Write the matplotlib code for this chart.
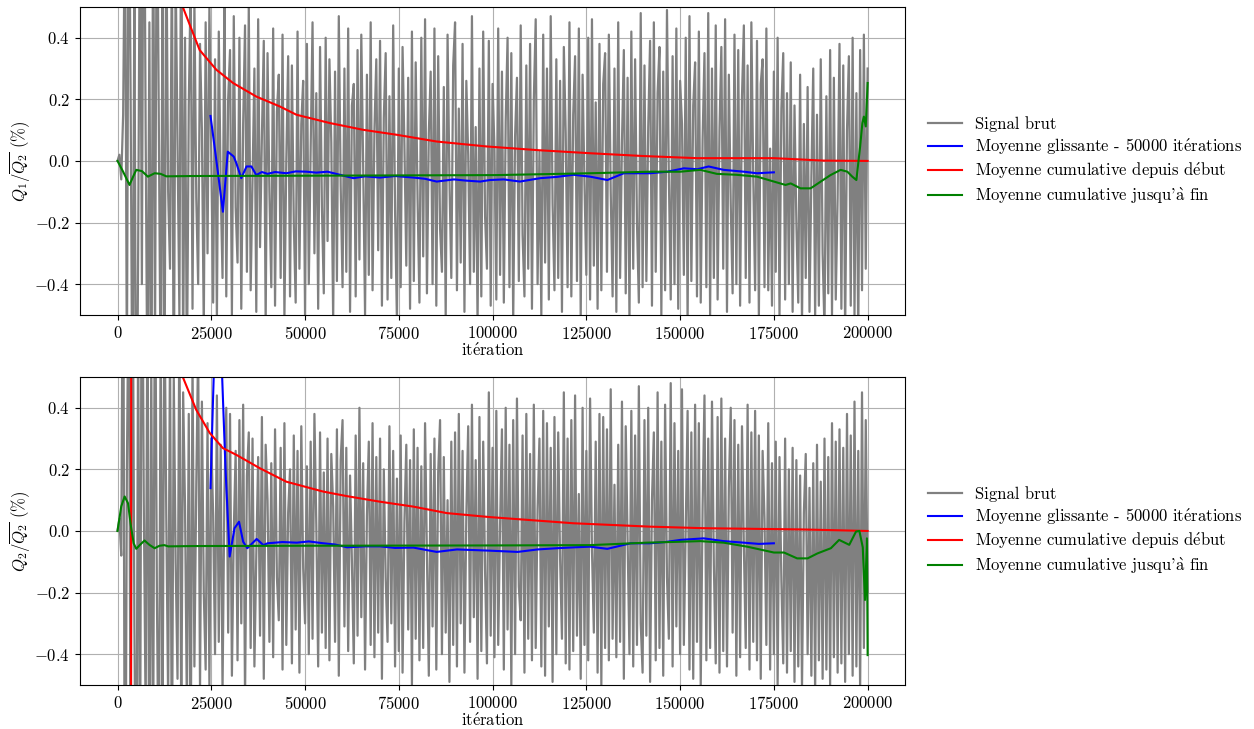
import numpy as np
import matplotlib
matplotlib.use("Agg")
import matplotlib.pyplot as plt

plt.rcParams.update(
    {
        "font.family": ["cmr10", "DejaVu Serif"],
        "mathtext.fontset": "cm",
        "axes.formatter.use_mathtext": True,
        "font.size": 12,
    }
)

# raw signal, one value every 500 iterations
sig1 = [
    0.00, 0.02, -0.06, 0.15, 0.85, -0.70, 1.10, 0.20, -0.95, 0.60, -1.20, -0.30, 0.95, -0.40, 1.30, 0.10, -0.85, 0.45, -1.05, 0.90,
    -0.60, 1.05, 0.15, -0.75, 0.55, -0.90, 0.80, -0.10, -0.35, 0.70, -0.85, 0.62, 0.05, -0.50, 0.95, -0.65, 0.40, -0.72, 0.18, 0.58,
    -0.48, 0.52, -0.12, -0.40, 0.38, 0.10, -0.55, 0.45, -0.30, 0.50, 0.02, -0.46, 0.33, -0.52, 0.42, -0.08, -0.38, 0.55, -0.44, 0.20,
    0.36, -0.50, 0.47, -0.15, -0.33, 0.40, -0.48, 0.12, 0.44, -0.36, 0.51, -0.42, -0.05, 0.30, -0.49, 0.46, -0.28, 0.08, 0.39, -0.53,
    0.35, -0.10, -0.41, 0.43, -0.47, 0.16, 0.28, -0.38, 0.41, -0.51, 0.00, 0.34, -0.44, 0.31, -0.20, -0.46, 0.42, -0.35, 0.12, 0.26,
    -0.50, 0.38, -0.40, 0.04, 0.45, -0.30, 0.22, -0.48, 0.37, -0.15, -0.43, 0.40, -0.26, 0.33, 0.06, -0.52, 0.29, -0.39, 0.47, -0.08,
    -0.41, 0.30, -0.36, 0.43, -0.49, 0.18, 0.25, -0.44, 0.36, -0.32, 0.41, -0.02, -0.50, 0.28, -0.37, 0.45, -0.42, 0.10, 0.33, -0.29,
    0.39, -0.47, 0.14, 0.35, -0.45, 0.21, -0.38, 0.44, -0.16, -0.52, 0.30, -0.41, 0.37, 0.05, -0.34, 0.27, -0.48, 0.42, -0.39, 0.32,
    -0.12, -0.46, 0.40, -0.31, 0.46, -0.43, 0.09, 0.29, -0.40, 0.43, -0.47, 0.34, -0.22, -0.36, 0.24, -0.51, 0.41, -0.06, -0.38, 0.31,
    0.45, -0.42, 0.17, -0.33, 0.38, -0.49, 0.26, 0.02, -0.40, 0.47, -0.36, 0.11, -0.53, 0.30, -0.44, 0.42, -0.18, -0.35, 0.39, -0.47,
    0.25, 0.04, -0.45, 0.43, -0.37, 0.29, -0.46, 0.13, 0.40, -0.41, 0.35, -0.52, 0.08, 0.27, -0.39, 0.44, -0.24, -0.44, 0.31, -0.35,
    0.38, -0.48, 0.20, 0.46, -0.40, 0.03, -0.50, 0.41, -0.33, 0.30, -0.45, 0.47, -0.14, -0.42, 0.33, -0.38, 0.26, -0.49, 0.37, 0.09,
    -0.41, 0.45, -0.44, 0.15, 0.34, -0.39, 0.43, -0.51, 0.28, -0.07, -0.37, 0.40, -0.45, 0.46, -0.34, 0.19, -0.48, 0.38, -0.42, 0.25,
    0.35, -0.36, 0.41, -0.10, -0.44, 0.30, -0.49, 0.45, -0.38, 0.06, 0.36, -0.43, 0.27, -0.52, 0.42, -0.35, 0.33, -0.20, -0.46, 0.48,
    -0.41, 0.31, -0.39, 0.11, 0.39, -0.47, 0.45, -0.36, 0.22, 0.37, -0.50, 0.29, -0.42, 0.49, -0.05, -0.45, 0.34, -0.40, 0.43, -0.48,
    0.26, 0.12, -0.37, 0.40, -0.53, 0.47, -0.39, 0.18, 0.32, -0.44, 0.42, -0.46, 0.07, 0.35, -0.41, 0.48, -0.50, 0.30, -0.38, 0.44,
    -0.45, 0.10, 0.37, -0.35, 0.46, -0.49, 0.28, -0.14, -0.43, 0.41, -0.40, 0.36, -0.47, 0.21, 0.44, -0.38, 0.31, -0.46, 0.45, -0.05,
    -0.42, 0.39, -0.51, 0.25, 0.33, -0.41, 0.43, -0.42, 0.04, -0.47, 0.29, -0.36, 0.40, -0.50, 0.17, 0.35, -0.45, 0.22, -0.40, 0.32,
    -0.49, 0.18, -0.20, -0.46, 0.28, -0.53, 0.12, -0.38, 0.24, -0.49, -0.05, 0.30, -0.51, 0.15, -0.47, 0.33, -0.30, -0.55, 0.21, -0.43,
    0.36, -0.50, 0.27, -0.45, -0.12, 0.38, -0.48, 0.31, -0.56, 0.10, 0.34, -0.47, 0.40, -0.50, 0.22, -0.58, 0.36, -0.42, 0.41, -0.35,
    0.30,
]
sig2 = [
    0.00, 0.04, -0.08, 1.20, -1.40, 0.20, 0.90, -0.80, 1.05, -0.30, -1.15, 0.70, -0.95, 1.25, 0.10, -0.60, 0.85, -1.10, 0.55, -0.75,
    1.00, -0.20, -0.90, 0.65, -0.70, 0.80, 0.05, -0.55, 0.62, -0.85, 0.50, -0.10, -0.48, 0.72, -0.66, 0.45, 0.08, -0.58, 0.38, -0.80,
    0.56, -0.44, 0.15, 0.60, -0.52, 0.42, -0.20, -0.45, 0.35, -0.50, 0.30, 0.05, -0.40, 0.44, -0.36, 0.28, -0.52, 0.12, 0.40, -0.33,
    0.38, -0.47, 0.00, 0.26, -0.42, 0.36, -0.30, 0.41, -0.55, 0.18, 0.32, -0.38, 0.30, -0.44, -0.08, 0.24, -0.34, 0.37, -0.48, 0.28,
    0.10, -0.36, 0.22, -0.41, 0.33, -0.15, -0.29, 0.27, -0.45, 0.35, -0.37, 0.06, 0.20, -0.43, 0.31, -0.32, 0.26, -0.46, 0.34, -0.12,
    -0.30, 0.21, -0.40, 0.29, -0.35, 0.38, 0.02, -0.44, 0.32, -0.33, 0.19, -0.38, 0.30, -0.42, 0.25, 0.08, -0.36, 0.33, -0.47, 0.23,
    0.36, -0.31, 0.27, -0.39, 0.18, -0.10, -0.43, 0.31, -0.34, 0.40, -0.28, 0.22, -0.45, 0.05, 0.29, -0.37, 0.35, -0.41, 0.24, -0.33,
    0.30, -0.48, 0.20, -0.15, -0.36, 0.34, -0.30, 0.26, -0.44, 0.17, -0.39, 0.31, -0.46, 0.03, 0.28, -0.32, 0.23, -0.50, 0.33, -0.35,
    0.27, -0.42, 0.21, -0.38, 0.35, -0.08, -0.47, 0.25, -0.31, 0.30, -0.45, 0.19, 0.36, -0.40, 0.24, -0.33, 0.10, -0.49, 0.29, -0.37,
    0.32, -0.44, 0.38, -0.30, 0.26, -0.46, 0.05, 0.34, -0.36, 0.41, -0.28, 0.23, -0.48, 0.37, -0.39, 0.29, -0.13, -0.43, 0.45, -0.34,
    0.27, -0.41, 0.39, -0.37, 0.02, 0.33, -0.45, 0.40, -0.32, 0.28, -0.50, 0.36, -0.40, 0.43, -0.18, -0.29, 0.31, -0.46, 0.38, -0.35,
    0.25, -0.42, 0.41, -0.38, 0.07, 0.30, -0.44, 0.39, -0.47, 0.35, -0.31, 0.27, -0.49, 0.37, -0.40, 0.32, -0.09, -0.35, 0.45, -0.43,
    0.30, -0.45, 0.36, -0.39, 0.44, -0.34, 0.12, -0.48, 0.40, -0.37, 0.26, -0.42, 0.43, -0.06, -0.33, 0.29, -0.46, 0.38, -0.50, 0.37,
    -0.38, 0.33, -0.42, 0.46, -0.35, 0.15, -0.41, 0.28, -0.36, 0.42, -0.48, 0.34, -0.04, -0.40, 0.39, -0.44, 0.31, -0.37, 0.47, -0.30,
    -0.46, 0.36, -0.34, 0.40, -0.49, 0.10, 0.32, -0.42, 0.45, -0.38, 0.29, -0.47, 0.41, -0.15, -0.35, 0.48, -0.44, 0.35, -0.31, 0.26,
    -0.40, 0.46, -0.37, 0.02, 0.39, -0.45, 0.32, -0.48, 0.41, -0.36, 0.35, -0.50, 0.08, 0.44, -0.42, 0.30, -0.38, 0.42, -0.11, -0.43,
    0.37, -0.46, 0.43, -0.39, 0.30, -0.44, 0.14, 0.40, -0.33, 0.36, -0.47, 0.28, -0.41, 0.34, -0.05, -0.38, 0.41, -0.45, 0.32, -0.36,
    0.39, -0.42, 0.31, -0.48, 0.26, 0.04, -0.37, 0.35, -0.45, 0.22, -0.40, 0.29, -0.50, 0.24, -0.16, -0.43, 0.30, -0.46, 0.20, -0.39,
    0.27, -0.49, 0.23, -0.44, 0.18, -0.51, 0.06, 0.25, -0.40, 0.14, -0.47, 0.22, -0.53, 0.28, -0.42, 0.16, -0.48, 0.30, -0.45, 0.24,
    -0.50, 0.35, -0.41, 0.29, -0.46, 0.33, -0.43, 0.27, -0.49, 0.38, -0.40, 0.31, -0.47, 0.42, -0.44, 0.26, -0.52, 0.45, -0.38, 0.36,
    -0.20,
]

# moving average (50000 it.)
mov1_x = [24800, 26800, 28100, 29400, 31000, 31700, 33000, 34400, 35700, 37000, 38500, 40000, 42000, 45000, 47500,
          50400, 53000, 56000, 59300, 62900, 66000, 70000, 74000, 78900, 82000, 85100, 89700, 93000, 96700, 99300,
          103000, 107300, 112700, 117000, 121600, 126000, 130600, 135000, 142000, 146600, 151000, 154600, 157600,
          161600, 167000, 170500, 175000]
mov1_y = [0.146, -0.04, -0.165, 0.03, 0.014, -0.008, -0.056, -0.018, -0.018, -0.046, -0.036, -0.042, -0.036, -0.040,
          -0.034, -0.035, -0.038, -0.035, -0.045, -0.056, -0.050, -0.054, -0.049, -0.054, -0.058, -0.067, -0.060,
          -0.064, -0.067, -0.062, -0.060, -0.067, -0.056, -0.052, -0.045, -0.051, -0.062, -0.04, -0.04, -0.035, -0.024,
          -0.027, -0.018, -0.029, -0.035, -0.04, -0.037]
mov2_x = [24800, 25400, 25900, 26500, 27200, 27900, 28800, 29900, 31200, 32400, 33500, 34600, 37100, 38900, 40000,
          44000, 47800, 51000, 54900, 58000, 61200, 66000, 70000, 74000, 78900, 85100, 90500, 95000, 99300, 106700,
          112000, 117100, 122000, 126000, 130600, 136800, 142000, 146000, 150100, 156300, 161600, 167000, 171000,
          175000]
mov2_y = [0.139, 0.40, 0.60, 0.80, 0.70, 0.50, 0.20, -0.083, 0.009, 0.03, -0.035, -0.056, -0.026, -0.046, -0.04,
          -0.036, -0.038, -0.034, -0.040, -0.044, -0.053, -0.050, -0.050, -0.055, -0.054, -0.068, -0.06, -0.062,
          -0.064, -0.068, -0.060, -0.056, -0.053, -0.051, -0.058, -0.04, -0.04, -0.036, -0.029, -0.024, -0.033,
          -0.038, -0.042, -0.04]

# cumulative mean from start
cum1_x = [0, 2000, 5000, 10000, 15000, 17400, 21900, 26350, 30800, 37000, 43250, 47700, 56600, 65500, 74400,
          85100, 98400, 112000, 126000, 140000, 154500, 175000, 188300, 200000]
cum1_y = [6.0, 3.0, 1.6, 0.9, 0.6, 0.50, 0.36, 0.296, 0.253, 0.209, 0.177, 0.150, 0.123, 0.101, 0.085, 0.063,
          0.047, 0.035, 0.025, 0.016, 0.009, 0.009, 0.001, 0.0]
cum2_x = [0, 3000, 3600, 3700, 8000, 13000, 17400, 21000, 24600, 28100, 31700, 37900, 45000, 54800, 61200, 70000,
          78900, 87800, 99300, 121600, 142000, 156300, 182300, 200000]
cum2_y = [-4.0, -2.0, -1.0, 3.0, 1.5, 0.8, 0.50, 0.393, 0.318, 0.269, 0.247, 0.204, 0.16, 0.128, 0.113, 0.095,
          0.079, 0.058, 0.045, 0.025, 0.014, 0.009, 0.005, 0.0]

# cumulative mean up to the end
end1_x = [0, 1500, 3200, 4200, 5000, 6500, 8100, 9900, 11500, 13000, 20000, 50000, 101000, 126000, 142000, 150000,
          155400, 159800, 165000, 170500, 175000, 178100, 179500, 182100, 184800, 187500, 190100, 192800, 194600,
          195900, 197000, 198000, 198600, 199000, 199500, 200000]
end1_y = [0.0, -0.035, -0.078, -0.05, -0.029, -0.033, -0.051, -0.040, -0.042, -0.05, -0.049, -0.048, -0.046, -0.040,
          -0.035, -0.035, -0.029, -0.042, -0.045, -0.051, -0.067, -0.078, -0.073, -0.089, -0.089, -0.067, -0.046,
          -0.029, -0.035, -0.051, -0.062, 0.047, 0.123, 0.144, 0.112, 0.253]
end2_x = [0, 1000, 1900, 2800, 3600, 4300, 5000, 6000, 7200, 8500, 9900, 11200, 12500, 13500, 20000, 50000, 99300,
          126000, 141000, 150100, 155400, 161600, 167900, 175000, 177700, 181200, 184000, 186600, 190200, 192400,
          195100, 196900, 197800, 198700, 199300, 199800, 200000]
end2_y = [0.0, 0.08, 0.112, 0.09, 0.014, -0.04, -0.058, -0.045, -0.031, -0.045, -0.056, -0.048, -0.046, -0.05,
          -0.049, -0.048, -0.047, -0.046, -0.038, -0.035, -0.033, -0.038, -0.051, -0.07, -0.07, -0.089, -0.089,
          -0.073, -0.056, -0.029, -0.045, -0.002, 0.0, -0.053, -0.224, -0.024, -0.403]

labels = [
    "Signal brut",
    r"Moyenne glissante - 50000 it$\acute{\mathrm{e}}$rations",
    r"Moyenne cumulative depuis d$\acute{\mathrm{e}}$but",
    r"Moyenne cumulative jusqu'$\grave{\mathrm{a}}$ fin",
]
xlabel = r"it$\acute{\mathrm{e}}$ration"
ylabels = [r"$Q_1/\overline{Q_2}$ (%)", r"$Q_2/\overline{Q_2}$ (%)"]

fig = plt.figure(figsize=(12.54, 7.29), dpi=100)
ax1 = fig.add_axes([0.0638, 0.568, 0.658, 0.4225])
ax2 = fig.add_axes([0.0638, 0.0604, 0.658, 0.4225])

panels = [
    (ax1, sig1, mov1_x, mov1_y, cum1_x, cum1_y, end1_x, end1_y, ylabels[0]),
    (ax2, sig2, mov2_x, mov2_y, cum2_x, cum2_y, end2_x, end2_y, ylabels[1]),
]

for ax, sig, mx, my, cx, cy, ex, ey, ylab in panels:
    it = np.linspace(0, 200000, len(sig))
    ax.plot(it, sig, color="grey", linewidth=1.6, label=labels[0])
    ax.plot(mx, my, color="blue", linewidth=1.5, label=labels[1])
    ax.plot(cx, cy, color="red", linewidth=1.5, label=labels[2])
    ax.plot(ex, ey, color="green", linewidth=1.5, label=labels[3])
    ax.set_xlim(-10000, 210000)
    ax.set_ylim(-0.5, 0.5)
    ax.set_xticks([0, 25000, 50000, 75000, 100000, 125000, 150000, 175000, 200000])
    ax.set_yticks([-0.4, -0.2, 0.0, 0.2, 0.4])
    ax.grid(True)
    ax.set_xlabel(xlabel, labelpad=0)
    ax.set_ylabel(ylab, labelpad=1)
    ax.legend(loc="center left", bbox_to_anchor=(1.01, 0.5), frameon=False, labelspacing=0.25)

fig.savefig("out.png", dpi=100)
